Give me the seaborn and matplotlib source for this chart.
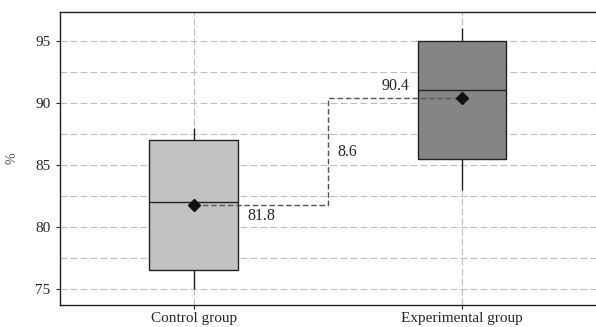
import numpy as np
import pandas as pd
import matplotlib
matplotlib.use("Agg")
import matplotlib.pyplot as plt
import seaborn as sns
from matplotlib.ticker import MultipleLocator

# ── Data ────────────────────────────────────────────────
groups = ["Control group", "Experimental group"]
# five-number summaries: lower whisker, Q1, median, Q3, upper whisker
control_vals = [75.0, 76.5, 82.0, 87.0, 88.0]
experimental_vals = [83.0, 85.5, 91.0, 95.0, 96.0]
means = [81.8, 90.4]
box_colors = ["#c2c2c2", "#858585"]

df = pd.DataFrame({
    "group": [groups[0]] * len(control_vals) + [groups[1]] * len(experimental_vals),
    "value": control_vals + experimental_vals,
})

sns.set_style("white")
plt.rcParams["font.family"] = ["Liberation Serif", "DejaVu Serif"]

fig, ax = plt.subplots(figsize=(5.96, 3.27), dpi=100)
fig.subplots_adjust(left=0.1, right=1.0, top=0.963, bottom=0.067)

sns.boxplot(data=df, x="group", y="value", hue="group", palette=box_colors,
            order=groups, width=0.33, whis=1.5, showcaps=False, legend=False,
            linecolor="#222222", linewidth=1.0, saturation=1, ax=ax,
            flierprops={"marker": ""})

# grid behind everything (set after boxplot, which turns the x grid off)
ax.set_axisbelow(True)
ax.yaxis.set_major_locator(MultipleLocator(5))
ax.yaxis.set_minor_locator(MultipleLocator(2.5))
ax.grid(True, which="both", axis="y", linestyle=(0, (6, 3)), color="#bdbdbd", linewidth=0.8)
ax.grid(True, which="major", axis="x", linestyle=(0, (6, 3)), color="#bdbdbd", linewidth=0.8)

# mean markers
ax.plot([0, 1], means, linestyle="none", marker="D", markersize=6.5,
        color="#111111", zorder=5)

# dashed connector between the means
ax.plot([0, 0.5, 0.5, 1], [means[0], means[0], means[1], means[1]],
        linestyle=(0, (4, 2)), color="#555555", linewidth=1.0, zorder=4)

ax.text(0.2, means[0] - 0.3, f"{means[0]:.1f}", ha="left", va="top", fontsize=11.5)
ax.text(0.535, (means[0] + means[1]) / 2 - 0.1, f"{means[1] - means[0]:.1f}",
        ha="left", va="center", fontsize=11.5)
ax.text(0.805, means[1] + 0.3, f"{means[1]:.1f}", ha="right", va="bottom", fontsize=11.5)

ax.set_xlim(-0.5, 1.5)
ax.set_ylim(73.7, 97.3)
ax.set_xlabel("")
ax.set_ylabel("%", fontsize=10, color="#555555", labelpad=12)
ax.tick_params(axis="y", which="major", labelsize=11, length=3, left=True)
ax.tick_params(axis="x", which="major", labelsize=11, length=3, bottom=True, pad=2)
ax.tick_params(axis="y", which="minor", length=0)

for s in ax.spines.values():
    s.set_color("#222222")
    s.set_linewidth(1.0)
ax.spines["right"].set_visible(False)

fig.savefig("out.png", dpi=100)
